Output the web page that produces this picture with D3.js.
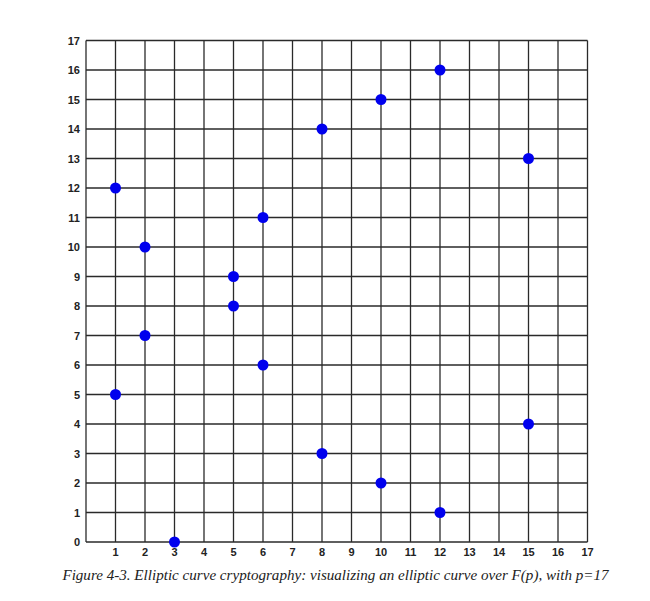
<!DOCTYPE html>
<html><head><meta charset="utf-8">
<script src="https://cdn.jsdelivr.net/npm/d3@7"></script>
<style>body{margin:0;background:#fff;}</style>
</head><body>
<svg id="c" width="650" height="601"></svg>
<script>
const xs = [1,1,2,2,3,5,5,6,6,8,8,10,10,12,12,15,15];
const ys = [5,12,7,10,0,8,9,6,11,3,14,2,15,1,16,4,13];
const tickValues = d3.range(0,18);
const caption = "Figure 4-3. Elliptic curve cryptography: visualizing an elliptic curve over F(p), with p=17";

const svg = d3.select("#c");
const x = d3.scaleLinear().domain([0,17]).range([86,587.5]);
const y = d3.scaleLinear().domain([0,17]).range([542,40.5]);
const g = svg.append("g");
g.selectAll(".vx").data(tickValues).join("line")
  .attr("x1",d=>x(d)).attr("x2",d=>x(d)).attr("y1",y(0)).attr("y2",y(17))
  .attr("stroke","#2a2a2a").attr("stroke-width",1.3);
g.selectAll(".hy").data(tickValues).join("line")
  .attr("y1",d=>y(d)).attr("y2",d=>y(d)).attr("x1",x(0)).attr("x2",x(17))
  .attr("stroke","#2a2a2a").attr("stroke-width",1.3);
svg.append("g").selectAll("text").data(tickValues.slice(1)).join("text")
  .attr("x",d=>x(d)).attr("y",556).attr("text-anchor","middle")
  .attr("font-family","Liberation Sans, Arial, sans-serif").attr("font-weight","bold")
  .attr("font-size",11).attr("fill","#222").text(d=>d);
svg.append("g").selectAll("text").data(tickValues).join("text")
  .attr("x",80).attr("y",d=>y(d)+4).attr("text-anchor","end")
  .attr("font-family","Liberation Sans, Arial, sans-serif").attr("font-weight","bold")
  .attr("font-size",11).attr("fill","#222").text(d=>d);
svg.append("g").selectAll("circle").data(xs.map((v,i)=>[v,ys[i]])).join("circle")
  .attr("cx",d=>x(d[0])).attr("cy",d=>y(d[1])).attr("r",5.5).attr("fill","#0000ee");
svg.append("text").attr("x",335.5).attr("y",580).attr("text-anchor","middle")
  .attr("font-family","Liberation Serif, Times New Roman, serif").attr("font-style","italic")
  .attr("font-size",15.1).attr("fill","#222").text(caption);
</script>
</body></html>
